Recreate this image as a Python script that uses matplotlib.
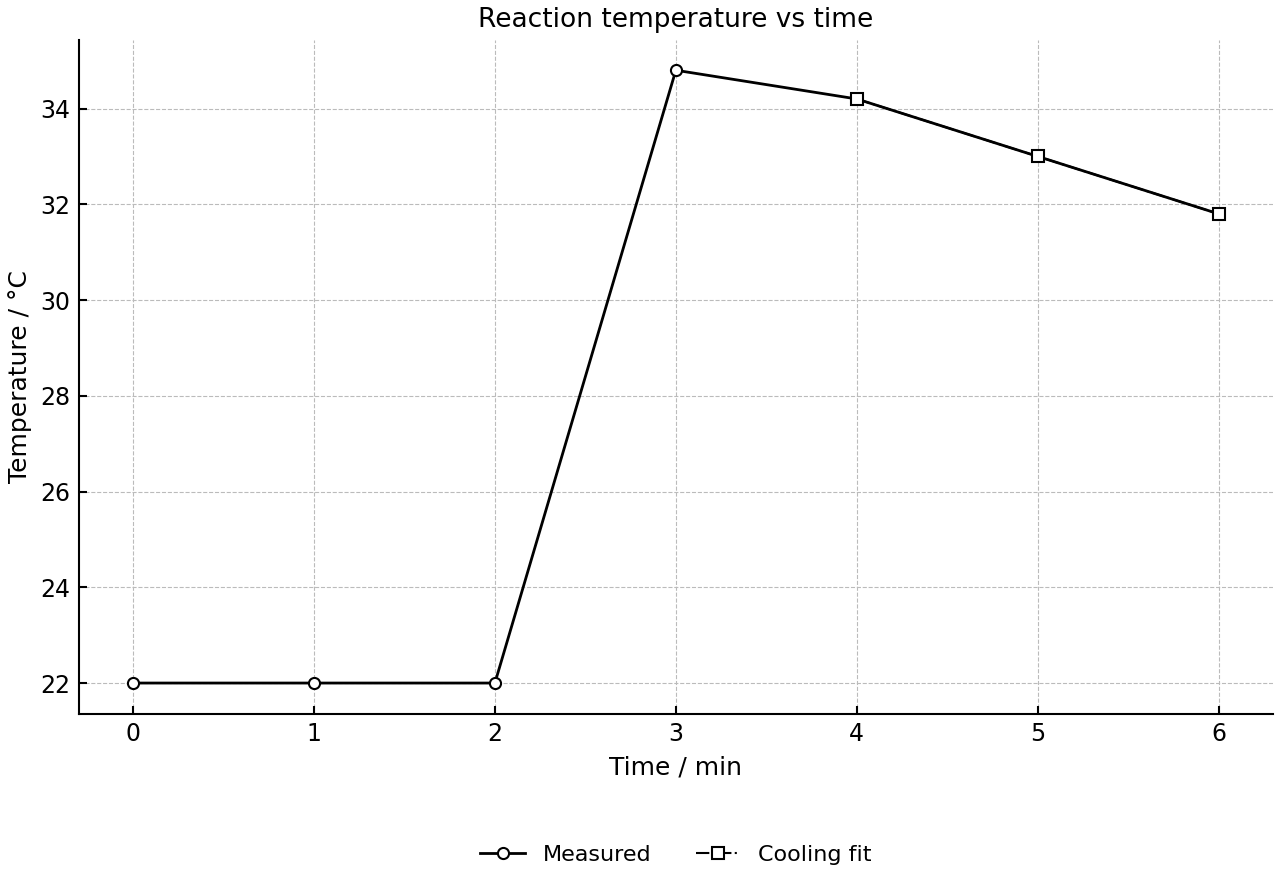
import matplotlib.pyplot as plt

time_min = [0, 1, 2, 3, 4, 5, 6]
measured = [22.0, 22.0, 22.0, 34.8, 34.2, 33.0, 31.8]
fit_time = [4, 5, 6]
fit_temp = [34.2, 33.0, 31.8]

fig, ax = plt.subplots(figsize=(12.8, 8.8), dpi=100)

ax.plot(time_min, measured, color='black', linewidth=2, marker='o', markersize=8,
        markerfacecolor='white', markeredgewidth=1.5, markevery=[0, 1, 2, 3],
        label='Measured')
ax.plot(fit_time, fit_temp, color='black', linewidth=1.5, linestyle='-.', marker='s',
        markersize=9, markerfacecolor='white', markeredgewidth=1.5, label='Cooling fit')

ax.set_title('Reaction temperature vs time', fontsize=19, pad=9)
ax.set_xlabel('Time / min', fontsize=18, labelpad=6.5)
ax.set_ylabel('Temperature / °C', fontsize=18, labelpad=6)
ax.tick_params(direction='in', labelsize=17, length=6, width=1.5, pad=6)
ax.grid(True, linestyle='--', color='#bbbbbb', linewidth=0.8)
for s in ['top', 'right']:
    ax.spines[s].set_visible(False)
for s in ['left', 'bottom']:
    ax.spines[s].set_linewidth(1.5)

ax.legend(loc='upper center', bbox_to_anchor=(0.5, -0.165), ncol=2, frameon=False, fontsize=16)

fig.subplots_adjust(left=0.0615, right=0.9945, top=0.955, bottom=0.189)
fig.savefig('out.png')
